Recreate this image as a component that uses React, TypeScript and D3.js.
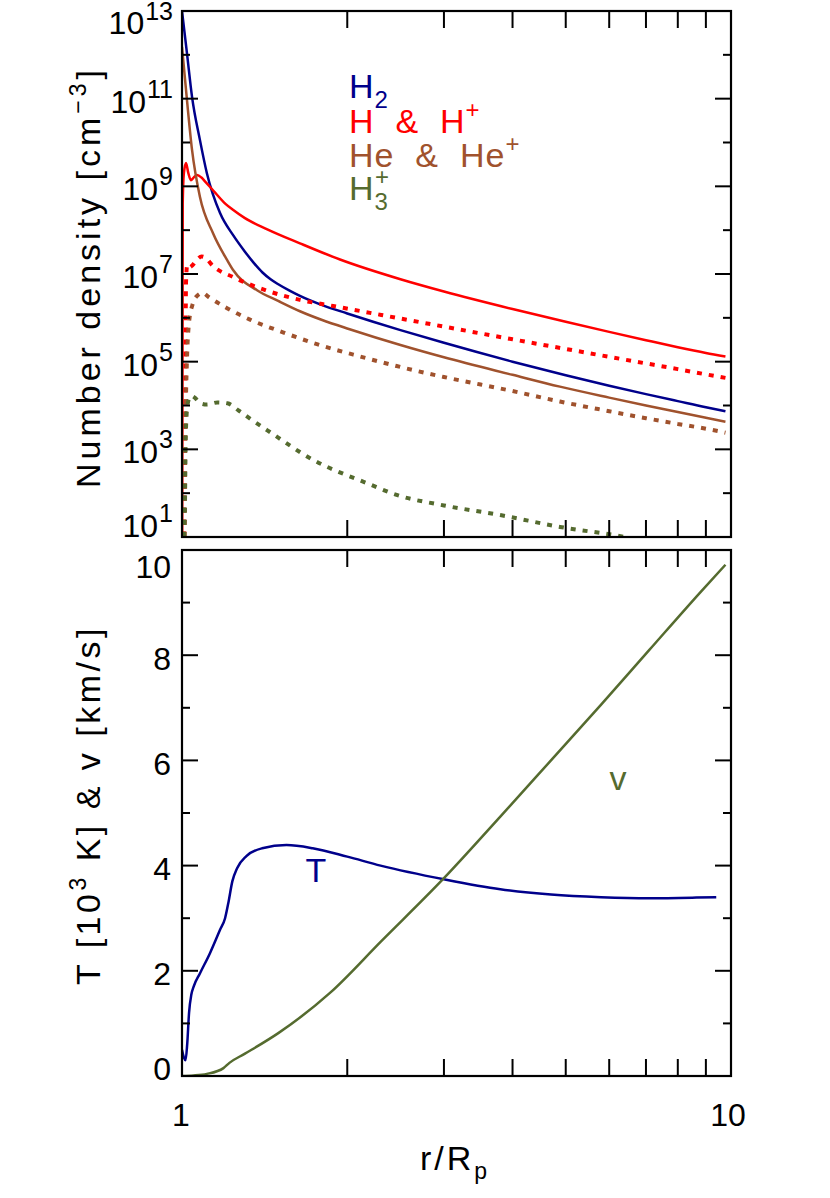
import React from 'react';
import * as d3 from 'd3';

// ---------- data (r / R_p and log10 number density) ----------
const h2R = [1.0, 1.021, 1.043, 1.078, 1.11, 1.173, 1.24, 1.3, 1.35, 1.4, 1.45, 1.5, 1.57, 1.64, 1.8, 2.0, 2.5, 3.0, 4.0, 5.0, 6.0, 7.0, 8.0, 9.0, 9.77];
const h2LogN = [13.0, 12.04, 11.04, 10.06, 9.3, 8.39, 7.88, 7.52, 7.26, 7.04, 6.88, 6.76, 6.62, 6.5, 6.29, 6.1, 5.72, 5.43, 5.0, 4.69, 4.45, 4.26, 4.1, 3.96, 3.87];

const hR = [1.0, 1.003, 1.008, 1.017, 1.027, 1.038, 1.05, 1.065, 1.085, 1.1, 1.15, 1.2, 1.24, 1.3, 1.43, 1.64, 1.94, 2.5, 3.0, 4.0, 5.0, 6.0, 7.0, 8.0, 9.0, 9.77];
const hLogN = [-2, 8.6, 9.3, 9.53, 9.3, 9.14, 9.2, 9.26, 9.2, 9.12, 8.85, 8.6, 8.46, 8.28, 8.02, 7.7, 7.33, 6.88, 6.6, 6.2, 5.91, 5.68, 5.49, 5.33, 5.2, 5.12];

const hpR = [1.0, 1.012, 1.017, 1.022, 1.03, 1.045, 1.065, 1.085, 1.1, 1.139, 1.239, 1.428, 1.64, 1.885, 2.23, 2.46, 3.0, 4.0, 5.0, 6.0, 7.0, 8.0, 9.0, 9.77];
const hpLogN = [-2, 2, 6.8, 7.2, 7.15, 7.2, 7.33, 7.4, 7.38, 7.18, 6.93, 6.62, 6.41, 6.27, 6.1, 6.0, 5.8, 5.51, 5.29, 5.11, 4.96, 4.83, 4.71, 4.63];

const heR = [1.0, 1.021, 1.043, 1.078, 1.139, 1.208, 1.239, 1.37, 1.5, 1.64, 1.8, 2.02, 2.5, 3.0, 4.0, 4.88, 6.0, 7.0, 8.0, 9.0, 9.77];
const heLogN = [12.18, 10.97, 9.83, 8.76, 7.93, 7.32, 7.09, 6.63, 6.38, 6.15, 5.95, 5.74, 5.38, 5.1, 4.7, 4.43, 4.18, 4.0, 3.85, 3.72, 3.63];

const hepR = [1.0, 1.01, 1.016, 1.022, 1.03, 1.045, 1.065, 1.09, 1.12, 1.208, 1.33, 1.527, 1.761, 2.109, 2.46, 3.0, 4.0, 4.88, 6.0, 7.0, 8.0, 9.0, 9.77];
const hepLogN = [-2, 2, 4.0, 5.2, 5.9, 6.3, 6.5, 6.57, 6.47, 6.22, 5.96, 5.67, 5.4, 5.12, 4.9, 4.65, 4.33, 4.09, 3.87, 3.71, 3.58, 3.47, 3.38];

const h3pR = [1.0, 1.012, 1.016, 1.022, 1.03, 1.04, 1.055, 1.08, 1.11, 1.16, 1.21, 1.27, 1.33, 1.428, 1.733, 2.17, 2.46, 3.0, 3.8, 4.88, 6.41, 7.0];
const h3pLogN = [-2, 1.5, 3.3, 3.95, 4.15, 4.22, 4.18, 4.05, 4.02, 4.07, 4.05, 3.88, 3.7, 3.44, 2.76, 2.23, 1.96, 1.72, 1.5, 1.23, 1.0, 0.9];

// Temperature [10^3 K] and velocity [km/s]
const tR = [1.0, 1.008, 1.015, 1.022, 1.03, 1.04, 1.05, 1.078, 1.125, 1.173, 1.198, 1.215, 1.235, 1.26, 1.31, 1.4, 1.55, 1.73, 2.0, 2.3, 3.0, 3.8, 4.7, 5.8, 7.1, 8.5, 9.4];
const tVal = [0.5, 0.35, 0.3, 0.6, 1.2, 1.55, 1.7, 1.95, 2.34, 2.78, 3.0, 3.3, 3.7, 3.95, 4.18, 4.33, 4.39, 4.33, 4.17, 4.0, 3.74, 3.55, 3.45, 3.4, 3.38, 3.39, 3.4];

const vR = [1.0, 1.05, 1.11, 1.19, 1.22, 1.3, 1.5, 1.86, 2.3, 3.0, 3.8, 4.7, 5.8, 7.1, 8.8, 9.77];
const vVal = [0, 0.01, 0.04, 0.15, 0.25, 0.42, 0.82, 1.58, 2.55, 3.76, 4.93, 6.0, 7.06, 8.1, 9.2, 9.72];

const xMinorTicks = [2, 3, 4, 5, 6, 7, 8, 9];
const xLabels = [1, 10];
const topExponents = [1, 2, 3, 4, 5, 6, 7, 8, 9, 10, 11, 12, 13];
const botTicks = [0, 1, 2, 3, 4, 5, 6, 7, 8, 9, 10];

const NAVY = '#00008b';
const RED = '#ff0000';
const BROWN = '#a0522d';
const GREEN = '#556b2f';

const FONT = '"Liberation Sans", Arial, sans-serif';
const SP2 = '\u00a0\u00a0';

export default function App() {
  const L = 182, R = 731;
  const T0 = 11, T1 = 537;
  const B0 = 550, B1 = 1076;

  const x = d3.scaleLog().domain([1, 10]).range([L, R]);
  const yTop = d3.scaleLog().domain([10, 1e13]).range([T1, T0]);
  const yBot = d3.scaleLinear().domain([0, 10]).range([B1, B0]);

  const topLine = d3.line<[number, number]>()
    .x(d => x(d[0]))
    .y(d => yTop(Math.pow(10, d[1])))
    .curve(d3.curveMonotoneX);
  const botLine = d3.line<[number, number]>()
    .x(d => x(d[0]))
    .y(d => yBot(d[1]))
    .curve(d3.curveMonotoneX);

  const zip = (a: number[], b: number[]) => a.map((v, i) => [v, b[i]] as [number, number]);

  const topSeries = [
    { d: zip(h2R, h2LogN), c: NAVY, dot: false },
    { d: zip(hR, hLogN), c: RED, dot: false },
    { d: zip(heR, heLogN), c: BROWN, dot: false },
    { d: zip(hpR, hpLogN), c: RED, dot: true },
    { d: zip(hepR, hepLogN), c: BROWN, dot: true },
    { d: zip(h3pR, h3pLogN), c: GREEN, dot: true },
  ];

  const tick = (x1: number, y1: number, x2: number, y2: number, k: string) => (
    <line key={k} x1={x1} y1={y1} x2={x2} y2={y2} stroke="#000" strokeWidth={2} />
  );

  const ticks: React.ReactNode[] = [];
  xMinorTicks.forEach(v => {
    const px = x(v);
    ticks.push(tick(px, T0, px, T0 + 17, `tt${v}`));
    ticks.push(tick(px, T1, px, T1 - 17, `tb${v}`));
    ticks.push(tick(px, B0, px, B0 + 17, `bt${v}`));
    ticks.push(tick(px, B1, px, B1 - 17, `bb${v}`));
  });
  topExponents.forEach(e => {
    const py = yTop(Math.pow(10, e));
    const len = e % 2 === 1 ? 16 : 8;
    ticks.push(tick(L, py, L + len, py, `yl${e}`));
    ticks.push(tick(R, py, R - len, py, `yr${e}`));
  });
  botTicks.forEach(v => {
    const py = yBot(v);
    const len = v % 2 === 0 ? 16 : 8;
    ticks.push(tick(L, py, L + len, py, `bl${v}`));
    ticks.push(tick(R, py, R - len, py, `br${v}`));
  });

  const topLabels = topExponents.filter(e => e % 2 === 1).map(e => {
    const py = yTop(Math.pow(10, e));
    const off = e === 13 ? 23 : e === 1 ? 0 : 14;
    return (
      <text key={`tl${e}`} x={173} y={py + off} textAnchor="end" fontSize={32} fontFamily={FONT} fill="#000">
        10<tspan fontSize={25} dx={1} dy={e === 13 ? -14 : -15}>{e}</tspan>
      </text>
    );
  });

  const botLabels = botTicks.filter(v => v % 2 === 0).map(v => {
    const py = yBot(v);
    const off = v === 10 ? 28 : v === 0 ? 4 : 14.5;
    return (
      <text key={`bl${v}`} x={171} y={py + off} textAnchor="end" fontSize={32} fontFamily={FONT} fill="#000">
        {v}
      </text>
    );
  });

  const xLabelEls = xLabels.map(v => (
    <text key={`xl${v}`} x={x(v) - (v === 10 ? 3 : 1)} y={1126} textAnchor="middle" fontSize={32} fontFamily={FONT} fill="#000">
      {v}
    </text>
  ));

  return (
    <svg width={830} height={1198} style={{ position: 'absolute', left: 0, top: 0, background: '#fff' }}>
      <rect x={0} y={0} width={830} height={1198} fill="#fff" />
      <defs>
        <clipPath id="clipTop"><rect x={L} y={T0} width={R - L} height={T1 - T0} /></clipPath>
        <clipPath id="clipBot"><rect x={L} y={B0} width={R - L} height={B1 - B0} /></clipPath>
      </defs>

      <g clipPath="url(#clipTop)">
        {topSeries.map((s, i) => (
          <path key={i} d={topLine(s.d) || ''} fill="none" stroke={s.c}
            strokeWidth={s.dot ? 4 : 2.5}
            strokeDasharray={s.dot ? '5 7' : undefined} />
        ))}
      </g>

      <g clipPath="url(#clipBot)">
        <path d={botLine(zip(tR, tVal)) || ''} fill="none" stroke={NAVY} strokeWidth={2.5} />
        <path d={botLine(zip(vR, vVal)) || ''} fill="none" stroke={GREEN} strokeWidth={2.5} />
      </g>

      <rect x={L} y={T0} width={R - L} height={T1 - T0} fill="none" stroke="#000" strokeWidth={2.2} />
      <rect x={L} y={B0} width={R - L} height={B1 - B0} fill="none" stroke="#000" strokeWidth={2.2} />
      {ticks}
      {topLabels}
      {botLabels}
      {xLabelEls}

      {/* legend */}
      <g fontSize={34} fontFamily={FONT} letterSpacing={1}>
        <text x={349} y={98} fill={NAVY}>H<tspan fontSize={24} dy={10}>2</tspan></text>
        <text x={349} y={133} fill={RED}>{`H${SP2}&${SP2}H`}<tspan fontSize={24} dy={-15}>+</tspan></text>
        <text x={349} y={167} fill={BROWN}>{`He${SP2}&${SP2}He`}<tspan fontSize={24} dy={-15}>+</tspan></text>
        <text x={349} y={200} fill={GREEN}>H<tspan fontSize={24} dy={10}>3</tspan><tspan fontSize={24} dx={-14} dy={-25}>+</tspan></text>
      </g>

      <text x={316} y={882} textAnchor="middle" fontSize={34} fontFamily={FONT} fill={NAVY}>T</text>
      <text x={618} y={790} textAnchor="middle" fontSize={34} fontFamily={FONT} fill={GREEN}>v</text>

      <text transform={`translate(100,${(T0 + T1) / 2 + 3}) rotate(-90)`} textAnchor="middle" fontSize={34}
        fontFamily={FONT} letterSpacing={4} fill="#000">
        {'Number density [cm'}<tspan fontSize={23} dy={-14}>{'−3'}</tspan><tspan dy={14}>]</tspan>
      </text>
      <text transform={`translate(100,${(B0 + B1) / 2 - 8}) rotate(-90)`} textAnchor="middle" fontSize={34}
        fontFamily={FONT} letterSpacing={3.5} fill="#000">
        {'T [10'}<tspan fontSize={23} dy={-14}>3</tspan><tspan dy={14}>{' K] & v [km/s]'}</tspan>
      </text>
      <text x={455} y={1170} textAnchor="middle" fontSize={34} fontFamily={FONT} letterSpacing={3} fill="#000">
        r/R<tspan fontSize={23} dy={9}>p</tspan>
      </text>
    </svg>
  );
}
